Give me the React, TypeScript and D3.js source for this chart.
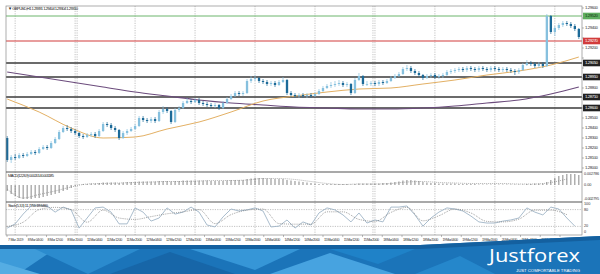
import React from 'react';
import * as d3 from 'd3';

const titleText = '\u25BC GBPUSD,H1  1.29391 1.29404 1.29304 1.29310';
const macdTitle = 'MACD(12,26,9) 0.002014 0.001185';
const stochTitle = 'Stoch(5,3,3) 11.7755 18.6460';

const firstOpen = 1.2830;
const closes = [
  1.2808,1.2811,1.2810,1.2813,1.2812,1.2814,1.2816,1.2815,1.2819,1.2821,
  1.2820,1.2825,1.2829,1.2836,1.2840,1.2839,1.2837,1.2835,1.2832,1.2831,
  1.2833,1.2834,1.2832,1.2837,1.2844,1.2843,1.2840,1.2838,1.2830,1.2835,
  1.2837,1.2839,1.2842,1.2850,1.2848,1.2847,1.2849,1.2847,1.2856,1.2859,
  1.2857,1.2846,1.2858,1.2860,1.2865,1.2867,1.2866,1.2868,1.2865,1.2864,
  1.2863,1.2862,1.2863,1.2860,1.2865,1.2869,1.2872,1.2875,1.2874,1.2875,
  1.2887,1.2889,1.2890,1.2887,1.2886,1.2884,1.2885,1.2883,1.2886,1.2888,
  1.2875,1.2873,1.2872,1.2873,1.2872,1.2873,1.2872,1.2874,1.2877,1.2880,
  1.2882,1.2883,1.2884,1.2885,1.2883,1.2884,1.2875,1.2888,1.2892,1.2884,
  1.2884,1.2885,1.2884,1.2886,1.2885,1.2887,1.2890,1.2892,1.2894,1.2899,
  1.2900,1.2897,1.2895,1.2893,1.2890,1.2892,1.2893,1.2891,1.2892,1.2893,
  1.2896,1.2897,1.2898,1.2899,1.2898,1.2900,1.2899,1.2898,1.2900,1.2899,
  1.2898,1.2900,1.2899,1.2898,1.2899,1.2898,1.2897,1.2896,1.2898,1.2903,
  1.2905,1.2904,1.2902,1.2904,1.2902,1.2952,1.2936,1.2940,1.2943,1.2945,
  1.2944,1.2942,1.2939,1.2931,
];
const highs = [
  1.2832,1.2813,1.2814,1.2815,1.2815,1.2816,1.2818,1.2818,1.2821,1.2823,
  1.2823,1.2827,1.2831,1.2838,1.2842,1.2843,1.2841,1.2839,1.2836,1.2834,
  1.2835,1.2836,1.2836,1.2839,1.2846,1.2846,1.2845,1.2842,1.2839,1.2837,
  1.2839,1.2841,1.2844,1.2852,1.2852,1.2850,1.2851,1.2851,1.2858,1.2862,
  1.2861,1.2858,1.2860,1.2862,1.2867,1.2870,1.2869,1.2870,1.2870,1.2867,
  1.2866,1.2865,1.2865,1.2864,1.2867,1.2871,1.2874,1.2877,1.2877,1.2877,
  1.2889,1.2892,1.2893,1.2891,1.2889,1.2888,1.2887,1.2887,1.2888,1.2891,
  1.2889,1.2877,1.2875,1.2875,1.2875,1.2875,1.2875,1.2876,1.2879,1.2882,
  1.2884,1.2886,1.2887,1.2888,1.2887,1.2886,1.2885,1.2890,1.2895,1.2893,
  1.2887,1.2887,1.2887,1.2888,1.2888,1.2889,1.2892,1.2894,1.2896,1.2901,
  1.2903,1.2902,1.2899,1.2897,1.2894,1.2894,1.2895,1.2895,1.2894,1.2895,
  1.2898,1.2899,1.2900,1.2901,1.2901,1.2902,1.2902,1.2901,1.2902,1.2902,
  1.2901,1.2902,1.2902,1.2901,1.2901,1.2901,1.2900,1.2899,1.2900,1.2905,
  1.2908,1.2907,1.2906,1.2906,1.2906,1.2954,1.2953,1.2942,1.2945,1.2947,
  1.2947,1.2946,1.2944,1.2940,
];
const lows = [
  1.2806,1.2805,1.2808,1.2809,1.2810,1.2811,1.2813,1.2813,1.2814,1.2818,
  1.2818,1.2819,1.2824,1.2828,1.2835,1.2837,1.2835,1.2833,1.2830,1.2829,
  1.2830,1.2831,1.2830,1.2831,1.2836,1.2841,1.2838,1.2836,1.2828,1.2829,
  1.2833,1.2836,1.2838,1.2841,1.2846,1.2845,1.2845,1.2845,1.2846,1.2854,
  1.2855,1.2844,1.2845,1.2856,1.2859,1.2864,1.2864,1.2865,1.2863,1.2862,
  1.2861,1.2860,1.2860,1.2858,1.2859,1.2864,1.2868,1.2871,1.2872,1.2872,
  1.2874,1.2885,1.2887,1.2885,1.2884,1.2882,1.2882,1.2881,1.2882,1.2885,
  1.2873,1.2871,1.2870,1.2870,1.2870,1.2870,1.2870,1.2871,1.2873,1.2876,
  1.2879,1.2880,1.2881,1.2882,1.2881,1.2881,1.2873,1.2874,1.2887,1.2882,
  1.2882,1.2882,1.2882,1.2882,1.2883,1.2884,1.2886,1.2889,1.2891,1.2893,
  1.2897,1.2895,1.2893,1.2891,1.2888,1.2889,1.2890,1.2889,1.2889,1.2890,
  1.2892,1.2894,1.2895,1.2896,1.2896,1.2896,1.2897,1.2896,1.2896,1.2897,
  1.2896,1.2896,1.2897,1.2896,1.2896,1.2896,1.2895,1.2893,1.2894,1.2897,
  1.2902,1.2902,1.2900,1.2900,1.2900,1.2901,1.2934,1.2932,1.2938,1.2941,
  1.2942,1.2940,1.2937,1.2929,
];

// moving averages sampled at candle indices
const maIndex = [0, 8, 16, 24, 32, 40, 48, 56, 64, 72, 80, 88, 96, 104, 112, 120, 128, 136, 143];
const maFast = [1.2869,1.2856,1.2840,1.2830,1.2831,1.2839,1.2846,1.2856,1.2867,1.2872,1.2876,1.2879,1.2880,1.2884,1.2888,1.2893,1.2897,1.2903,1.2911];
const maSlow = [1.2896,1.2891,1.2886,1.2881,1.2876,1.2872,1.2868,1.2865,1.2863,1.2861,1.2860,1.2859,1.2859,1.2860,1.2862,1.2865,1.2868,1.2874,1.2881];

// horizontal levels
const levelGreen = 1.2952;
const levelRed = 1.2927;
const levelsBlack = [1.2905, 1.2891, 1.2871, 1.2860];

const priceTicks = [1.2960,1.2950,1.2940,1.2930,1.2920,1.2910,1.2900,1.2890,1.2880,1.2870,1.2860,1.2850,1.2840,1.2830,1.2820,1.2810,1.2800];

// MACD histogram (per candle) and signal (every 4th candle)
const macdMain = [
  -0.0012,-0.0018,-0.0022,-0.0026,-0.0028,-0.0028,-0.0028,-0.0026,-0.0026,-0.0024,
  -0.0022,-0.0020,-0.0018,-0.0016,-0.0012,-0.0010,-0.0006,-0.0002,
  0.0001,0.0002,0.0002,0.0003,0.0003,0.0004,0.0005,0.0005,0.0005,0.0005,0.0004,0.0005,
  0.0006,0.0006,0.0006,0.0007,0.0007,0.0007,0.0007,0.0007,0.0008,0.0008,0.0008,0.0007,
  0.0008,0.0008,0.0009,0.0009,0.0009,0.0009,0.0009,
  0.0009,0.0009,0.0008,0.0008,0.0008,0.0008,0.0009,0.0010,0.0010,0.0010,0.0010,0.0012,
  0.0013,0.0014,0.0014,0.0014,0.0013,0.0013,0.0012,0.0012,0.0012,0.0010,0.0009,0.0008,
  0.0007,0.0006,0.0005,0.0004,0.0003,
  0.0002,0.0002,0.0002,0.0002,0.0002,0.0002,0.0002,0.0002,0.0001,0.0002,0.0003,0.0003,
  0.0003,0.0003,0.0003,0.0003,0.0004,0.0004,0.0005,0.0006,0.0007,
  0.0009,0.0010,0.0010,0.0009,0.0008,0.0006,0.0005,0.0004,0.0004,
  0.0003,0.0003,0.0003,0.0003,0.0003,0.0002,0.0002,0.0002,0.0002,0.0002,
  0.0001,0.0001,0.0001,0.0001,0.0001,0.0001,0.0001,0.0001,0.0001,0.0001,
  0.0001,0.0001,0.0002,0.0002,0.0003,0.0003,0.0003,
  0.0006,0.0010,0.0014,0.0018,0.0020,0.0022,0.0022,0.0022,0.0020,
];
const macdSignal = [
  -0.0008,-0.0026,-0.0019,-0.0012,-0.0004,0.0002,0.0003,0.0004,0.0005,0.0006,
  0.0007,0.0007,0.0008,0.0009,0.0009,0.0010,0.0013,0.0013,0.0011,0.0007,
  0.0003,0.0001,0.0002,0.0002,0.0003,0.0006,0.0007,0.0005,0.0004,0.0003,
  0.0003,0.0003,0.0002,0.0002,0.0005,0.0012,
];

// Stochastic %K (every 2nd candle) and %D (every 4th candle)
const stochK = [
  14,29,64,93,96,93,71,89,79,14, 50,86,89,71,29,29,86,71,39,50,
  86,64,71,89,71,25,18,54,82,75, 79,86,75,18,21,43,14,36,25,68,
  86,79,61,36,68,32,43,36,89,89, 93,61,21,50,71,86,82,75,57,36,
  32,32,39,43,50,86,71,61,89,82, 50,21,
];
const stochD = [
  20,35,80,88,80,35,78,50,45,55, 65,72,80,30,62,78,82,30,28,28,
  72,72,45,38,70,88,40,58,82,68, 38,36,46,78,78,62,
];

const dateLabels = [
  '7 Mar 2019','8 Mar 04:00','8 Mar 12:00','8 Mar 20:00','11 Mar 04:00','11 Mar 12:00',
  '11 Mar 20:00','12 Mar 04:00','12 Mar 12:00','12 Mar 20:00','13 Mar 04:00','13 Mar 12:00',
  '13 Mar 20:00','14 Mar 04:00','14 Mar 12:00','14 Mar 20:00','15 Mar 04:00','15 Mar 12:00',
  '15 Mar 20:00','18 Mar 04:00','18 Mar 12:00','18 Mar 20:00','19 Mar 04:00','19 Mar 12:00',
  '19 Mar 20:00','20 Mar 04:00','20 Mar 12:00','20 Mar 20:00','21 Mar 04:00',
];

// vertical grid at candle indices
const gridIndex = [2, 17, 32, 47, 62, 77, 92, 107, 122, 137];
const separatorIndex = [17, 91];

const FONT = '"Liberation Sans", Arial, sans-serif';

export default function App() {
  const L = 6, R = 582;
  const mainTop = 6, mainBot = 172, macdBot = 202, stochBot = 235;

  const n = closes.length;
  const opens = closes.map((c, i) => (i === 0 ? firstOpen : closes[i - 1]));
  const xb = d3.scaleBand<number>().domain(d3.range(n)).range([6, 580]).paddingInner(0.42);
  const cx = (i: number) => (xb(Math.round(i)) ?? 0) + xb.bandwidth() / 2 + (i - Math.round(i)) * xb.step();
  const y = d3.scaleLinear().domain([1.28, 1.296]).range([168, 8]);
  const ym = d3.scaleLinear().domain([-0.0034, 0.0026]).range([macdBot, mainBot]);
  const ys = d3.scaleLinear().domain([0, 100]).range([232, 204]);

  const maLine = d3.line<number>().x((_, k) => cx(maIndex[k])).y((v) => y(v)).curve(d3.curveMonotoneX);
  const sigLine = d3.line<number>().x((_, k) => cx(k * 4)).y((v) => ym(v)).curve(d3.curveMonotoneX);
  const kLine = d3.line<number>().x((_, k) => cx(k * 2)).y((v) => ys(v));
  const dLine = d3.line<number>().x((_, k) => cx(k * 4)).y((v) => ys(v)).curve(d3.curveMonotoneX);
  const xd = d3.scalePoint<string>().domain(dateLabels).range([7, 560]);

  const bull = '#86c0de';
  const bear = '#1c6a98';
  const fmt = (v: number) => v.toFixed(5);

  const axisText = { fontFamily: FONT, fontSize: 4.3, fill: '#333' } as const;

  const allLevels = [levelGreen, levelRed, ...levelsBlack];
  const visibleTicks = priceTicks.filter((p) => allLevels.every((lv) => Math.abs(y(p) - y(lv)) >= 6.8));

  const levelBox = (p: number, bg: string, fg: string, key: string) => (
    <g key={key}>
      <rect x={583} y={y(p) - 3.3} width={17} height={6.6} fill={bg} />
      <text x={585} y={y(p) + 0.2} dominantBaseline="middle" {...axisText} fill={fg} textLength={13}>
        {fmt(p)}
      </text>
    </g>
  );

  return (
    <svg width={600} height={274} style={{ position: 'absolute', left: 0, top: 0, background: '#fff' }}>
      <defs>
        <clipPath id="mainClip"><rect x={L} y={mainTop} width={R - L} height={mainBot - mainTop} /></clipPath>
        <clipPath id="macdClip"><rect x={L} y={mainBot} width={R - L} height={macdBot - mainBot} /></clipPath>
        <clipPath id="stochClip"><rect x={L} y={macdBot} width={R - L} height={stochBot - macdBot} /></clipPath>
      </defs>
      <rect x={0} y={0} width={600} height={274} fill="#fff" />

      {/* vertical grid */}
      {gridIndex.map((g) => (
        <line key={'g' + g} x1={cx(g)} x2={cx(g)} y1={mainTop} y2={stochBot} stroke="#9a9a9a" strokeWidth={0.6} strokeDasharray="1.2,1.2" />
      ))}
      {separatorIndex.map((g) => (
        <line key={'s' + g} x1={cx(g) + 2} x2={cx(g) + 2} y1={mainTop} y2={stochBot} stroke="#9a9a9a" strokeWidth={0.6} strokeDasharray="1.2,1.2" />
      ))}

      {/* main panel */}
      <g clipPath="url(#mainClip)">
        <line x1={L} x2={R} y1={y(levelGreen)} y2={y(levelGreen)} stroke="#6cb56c" strokeWidth={1} />
        <line x1={L} x2={R} y1={y(levelRed)} y2={y(levelRed)} stroke="#d23c3c" strokeWidth={1.1} />
        {levelsBlack.map((p) => (
          <line key={'lb' + p} x1={L} x2={R} y1={y(p)} y2={y(p)} stroke="#3a3a3a" strokeWidth={1.3} />
        ))}
        <path d={maLine(maSlow) ?? ''} fill="none" stroke="#6b4b7c" strokeWidth={1.1} />
        <path d={maLine(maFast) ?? ''} fill="none" stroke="#e3b064" strokeWidth={1} />
        {closes.map((c, i) => {
          const o = opens[i];
          const up = c >= o;
          const col = up ? bull : bear;
          const top = y(Math.max(o, c));
          const h = Math.max(0.8, Math.abs(y(o) - y(c)));
          return (
            <g key={'c' + i}>
              <line x1={cx(i)} x2={cx(i)} y1={y(highs[i])} y2={y(lows[i])} stroke={col} strokeWidth={0.7} />
              <rect x={xb(i)} y={top} width={xb.bandwidth()} height={h} fill={col} />
            </g>
          );
        })}
      </g>
      <text x={8} y={9} {...axisText} fontSize={4.2} fill="#222" dominantBaseline="middle" textLength={70}>{titleText}</text>

      {/* MACD panel */}
      <g clipPath="url(#macdClip)">
        {macdMain.map((v, i) => (
          <line key={'m' + i} x1={cx(i)} x2={cx(i)} y1={ym(0)} y2={ym(v)} stroke="#555" strokeWidth={0.7} />
        ))}
        <path d={sigLine(macdSignal) ?? ''} fill="none" stroke="#777" strokeWidth={0.7} strokeDasharray="0.8,1.2" />
      </g>
      <text x={8} y={175.5} {...axisText} fontSize={4} fill="#222" dominantBaseline="middle" textLength={46}>{macdTitle}</text>

      {/* Stochastic panel */}
      <g clipPath="url(#stochClip)">
        <line x1={L} x2={R} y1={ys(80)} y2={ys(80)} stroke="#999" strokeWidth={0.6} strokeDasharray="1.2,1.2" />
        <line x1={L} x2={R} y1={ys(20)} y2={ys(20)} stroke="#999" strokeWidth={0.6} strokeDasharray="1.2,1.2" />
        <path d={kLine(stochK) ?? ''} fill="none" stroke="#9fb4c6" strokeWidth={0.9} />
        <path d={dLine(stochD) ?? ''} fill="none" stroke="#666" strokeWidth={0.7} strokeDasharray="0.8,1.1" />
      </g>
      <text x={8} y={205.5} {...axisText} fontSize={4} fill="#222" dominantBaseline="middle" textLength={40}>{stochTitle}</text>

      {/* frames */}
      <rect x={L} y={mainTop} width={R - L} height={stochBot - mainTop} fill="none" stroke="#8a8a8a" strokeWidth={0.7} />
      <line x1={L} x2={R} y1={mainBot} y2={mainBot} stroke="#555" strokeWidth={1.2} />
      <line x1={L} x2={R} y1={macdBot} y2={macdBot} stroke="#555" strokeWidth={1.2} />

      {/* price axis */}
      {priceTicks.map((p) => (
        <line key={'ptl' + p} x1={R} x2={R + 2} y1={y(p)} y2={y(p)} stroke="#777" strokeWidth={0.5} />
      ))}
      {visibleTicks.map((p) => (
        <text key={'pt' + p} x={585} y={y(p)} dominantBaseline="middle" {...axisText} textLength={13}>{fmt(p)}</text>
      ))}
      {levelBox(levelGreen, '#5fae5f', '#113311', 'lg')}
      {levelBox(levelRed, '#d23c3c', '#fff', 'lr')}
      {levelsBlack.map((p) => levelBox(p, '#222', '#fff', 'lbb' + p))}

      {/* MACD axis */}
      <text x={584} y={Math.max(174, ym(0.002786))} dominantBaseline="middle" {...axisText} fontSize={3.8} textLength={15}>0.002786</text>
      <text x={584} y={ym(0)} dominantBaseline="middle" {...axisText} fontSize={3.8}>0.00</text>
      <text x={584} y={Math.min(199.5, ym(-0.002795))} dominantBaseline="middle" {...axisText} fontSize={3.8} textLength={15}>-0.002795</text>

      {/* Stoch axis */}
      {[100, 80, 20, 0].map((v) => (
        <text key={'sa' + v} x={584} y={ys(v)} dominantBaseline="middle" {...axisText} fontSize={3.8}>{v}</text>
      ))}

      {/* date axis */}
      {dateLabels.map((d) => (
        <g key={d}>
          <line x1={xd(d)} x2={xd(d)} y1={stochBot} y2={stochBot + 2} stroke="#777" strokeWidth={0.5} />
          <text x={(xd(d) ?? 0) + 1} y={240} dominantBaseline="middle" {...axisText} fontSize={3.6} textLength={15.5}>{d}</text>
        </g>
      ))}

      {/* banner */}
      <polygon points="0,245 420,245 600,236 600,274 0,274" fill="#1b74b9" />
      <polygon points="0,245 420,245 600,236 600,240 420,249 0,249" fill="#14609f" />
      <polygon points="0,249 55,249 18,274 0,274" fill="#3d9bd9" />
      <polygon points="35,249 140,249 88,274" fill="#2b8bce" />
      <polygon points="110,274 170,252 235,274" fill="#1766a8" />
      <polygon points="190,249 300,249 255,270" fill="#3696d7" />
      <polygon points="270,274 330,253 395,274" fill="#47a3e0" />
      <polygon points="330,249 415,249 378,264" fill="#1f82c8" />
      <polygon points="415,274 460,256 495,274" fill="#2587cb" />
      <polygon points="0,262 40,274 0,274" fill="#55ade3" />
      <text x={489} y={262} fontFamily='"Open Sans", "Lato", sans-serif' fontSize={19} fontWeight={500} fill="#fff" textLength={91} lengthAdjust="spacingAndGlyphs">Justforex</text>
      <text x={516} y={270.5} fontFamily={FONT} fontSize={4} fill="#fff" textLength={64} lengthAdjust="spacingAndGlyphs" dominantBaseline="middle">JUST COMFORTABLE TRADING</text>
    </svg>
  );
}
